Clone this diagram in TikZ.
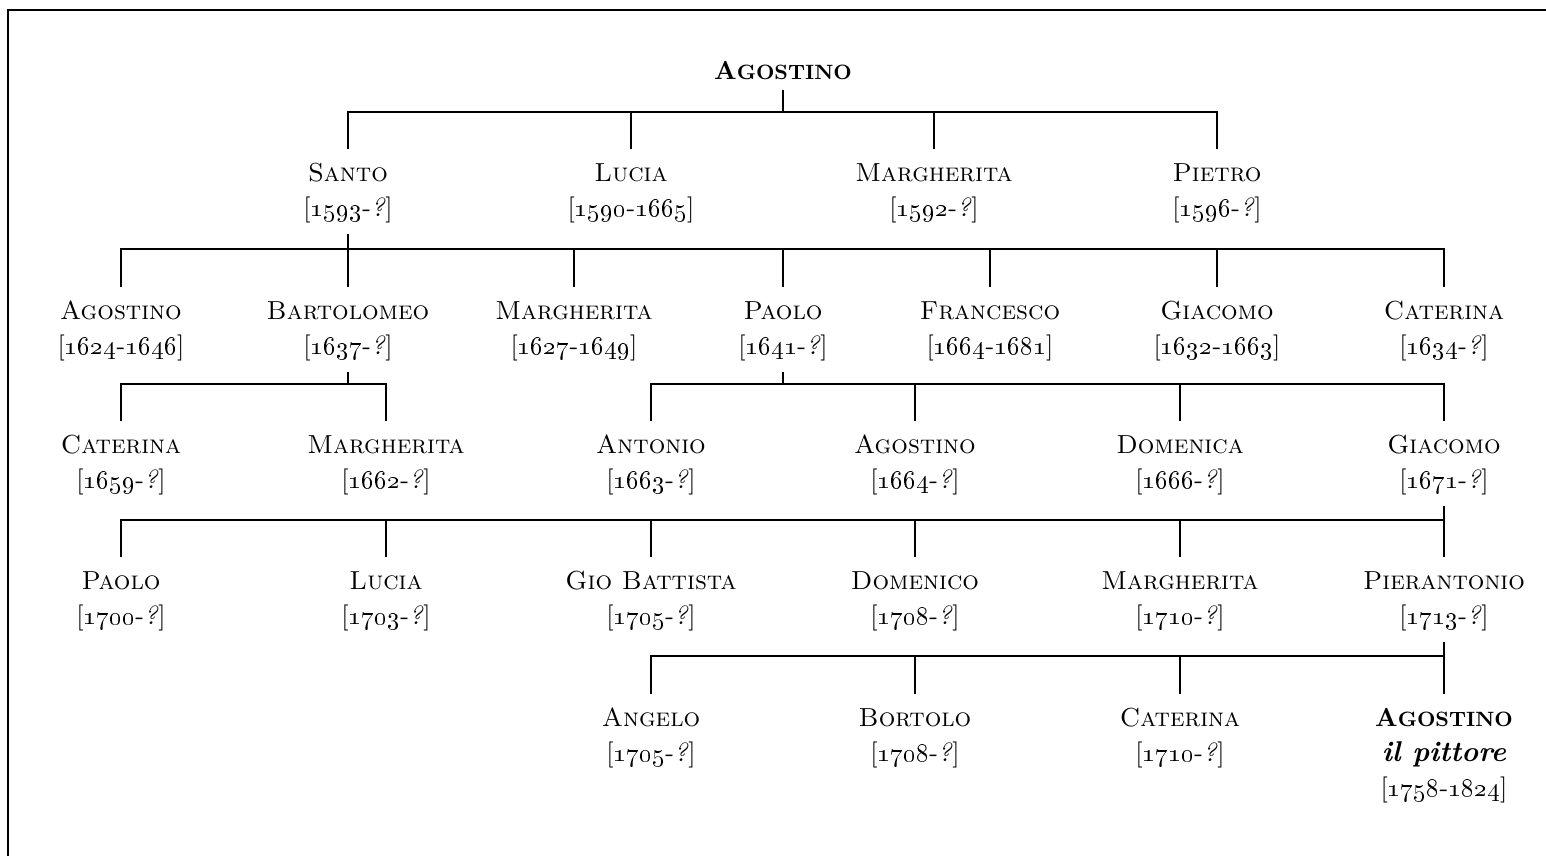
\documentclass[tikz,border=0pt]{standalone}
\newcommand{\pers}[2]{\begin{tabular}{@{}c@{}}\textsc{#1}\\#2\end{tabular}}
\newcommand{\nato}[1]{[\oldstylenums{#1}-\textit{?}]}
\newcommand{\vita}[2]{[\oldstylenums{#1}-\oldstylenums{#2}]}
% bold small caps by hand (no bold caps font)
\newcommand{\bsc}[2]{\textbf{#1{\fontsize{8.7}{10}\selectfont #2}}}
\tikzset{
  persona/.style={anchor=north, inner xsep=0pt, inner ysep=3pt, font=\fontsize{10.95}{14.7}\selectfont},
  capo/.style={inner sep=4pt, font=\fontsize{10.95}{14.7}\selectfont},
  ramo/.style={line width=1pt},
}
\begin{document}
\begin{tikzpicture}[x=0.42pt,y=-0.42pt]
\useasboundingbox (0,0) rectangle (1546,856);
\draw[line width=0.85pt] (1546,10) -| (8,856);

% Agostino
\node[capo] (agostino) at (783,71) {\bsc{A}{GOSTINO}};
\node[persona] (santo) at (348,149) {\pers{Santo}{\nato{1593}}};
\node[persona] (lucia) at (631,149) {\pers{Lucia}{\vita{1590}{1665}}};
\node[persona] (margheritaI) at (934,149) {\pers{Margherita}{\nato{1592}}};
\node[persona] (pietro) at (1217,149) {\pers{Pietro}{\nato{1596}}};
\coordinate (b1) at (783,112);
\draw[ramo] (agostino) -- (b1);
\draw[ramo] (santo) |- (b1) -| (pietro);
\draw[ramo] (lucia) -- (lucia |- b1);
\draw[ramo] (margheritaI) -- (margheritaI |- b1);

% Santo
\node[persona] (agostinoII) at (121,287) {\pers{Agostino}{\vita{1624}{1646}}};
\node[persona] (bartolomeo) at (348,287) {\pers{Bartolomeo}{\nato{1637}}};
\node[persona] (margheritaII) at (574,287) {\pers{Margherita}{\vita{1627}{1649}}};
\node[persona] (paolo) at (783,287) {\pers{Paolo}{\nato{1641}}};
\node[persona] (francesco) at (990,287) {\pers{Francesco}{\vita{1664}{1681}}};
\node[persona] (giacomo) at (1217,287) {\pers{Giacomo}{\vita{1632}{1663}}};
\node[persona] (caterina) at (1444,287) {\pers{Caterina}{\nato{1634}}};
\coordinate (b2) at (348,249);
\draw[ramo] (santo) -- (b2);
\draw[ramo] (agostinoII) |- (b2) -| (caterina);
\draw[ramo] (bartolomeo) -- (b2);
\draw[ramo] (margheritaII) -- (margheritaII |- b2);
\draw[ramo] (paolo) -- (paolo |- b2);
\draw[ramo] (francesco) -- (francesco |- b2);
\draw[ramo] (giacomo) -- (giacomo |- b2);

% Bartolomeo
\node[persona] (caterinaIII) at (121,421) {\pers{Caterina}{\nato{1659}}};
\node[persona] (margheritaIII) at (386,421) {\pers{Margherita}{\nato{1662}}};
\coordinate (b3) at (348,384);
\draw[ramo] (bartolomeo) -- (b3);
\draw[ramo] (caterinaIII) |- (b3) -| (margheritaIII);

% Paolo
\node[persona] (antonio) at (651,421) {\pers{Antonio}{\nato{1663}}};
\node[persona] (agostinoIII) at (915,421) {\pers{Agostino}{\nato{1664}}};
\node[persona] (domenica) at (1180,421) {\pers{Domenica}{\nato{1666}}};
\node[persona] (giacomoIII) at (1444,421) {\pers{Giacomo}{\nato{1671}}};
\coordinate (b3p) at (783,384);
\draw[ramo] (paolo) -- (b3p);
\draw[ramo] (antonio) |- (b3p) -| (giacomoIII);
\draw[ramo] (agostinoIII) -- (agostinoIII |- b3p);
\draw[ramo] (domenica) -- (domenica |- b3p);

% Giacomo
\node[persona] (paoloIV) at (121,557) {\pers{Paolo}{\nato{1700}}};
\node[persona] (luciaIV) at (386,557) {\pers{Lucia}{\nato{1703}}};
\node[persona] (giobattista) at (651,557) {\pers{Gio Battista}{\nato{1705}}};
\node[persona] (domenico) at (915,557) {\pers{Domenico}{\nato{1708}}};
\node[persona] (margheritaIV) at (1180,557) {\pers{Margherita}{\nato{1710}}};
\node[persona] (pierantonio) at (1444,557) {\pers{Pierantonio}{\nato{1713}}};
\coordinate (b4) at (1444,520);
\draw[ramo] (giacomoIII) -- (pierantonio);
\draw[ramo] (paoloIV) |- (b4);
\draw[ramo] (luciaIV) -- (luciaIV |- b4);
\draw[ramo] (giobattista) -- (giobattista |- b4);
\draw[ramo] (domenico) -- (domenico |- b4);
\draw[ramo] (margheritaIV) -- (margheritaIV |- b4);

% Pierantonio
\node[persona] (angelo) at (651,694) {\pers{Angelo}{\nato{1705}}};
\node[persona] (bortolo) at (915,694) {\pers{Bortolo}{\nato{1708}}};
\node[persona] (caterinaV) at (1180,694) {\pers{Caterina}{\nato{1710}}};
\node[persona] (pittore) at (1444,694) {\begin{tabular}{@{}c@{}}\bsc{A}{GOSTINO}\\{\large\bfseries\itshape il pittore}\\\vita{1758}{1824}\end{tabular}};
\coordinate (b5) at (1444,656);
\draw[ramo] (pierantonio) -- (pittore);
\draw[ramo] (angelo) |- (b5);
\draw[ramo] (bortolo) -- (bortolo |- b5);
\draw[ramo] (caterinaV) -- (caterinaV |- b5);

\end{tikzpicture}
\end{document}
